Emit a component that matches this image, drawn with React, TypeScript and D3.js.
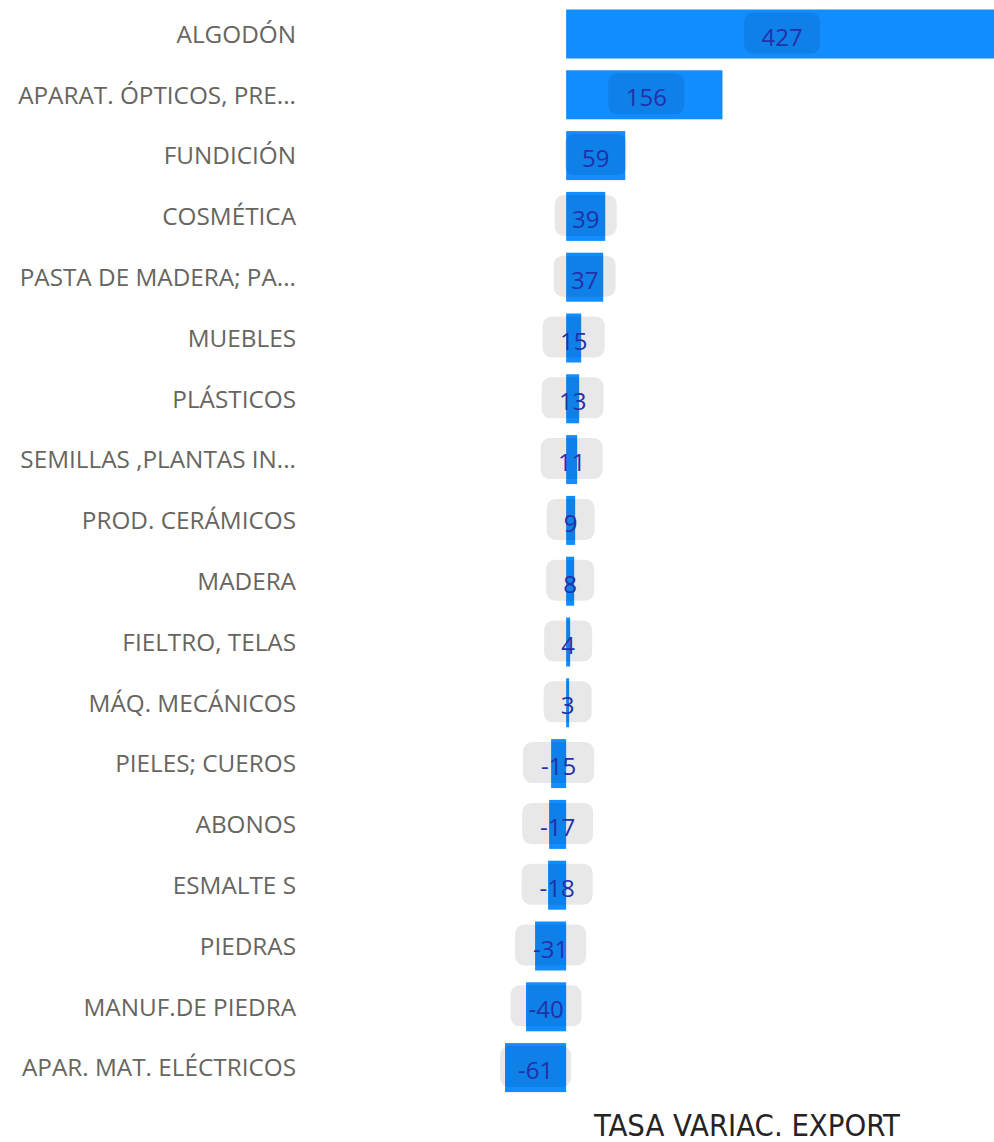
import React from "react";
import * as d3 from "d3";

const categories = [
  "ALGODÓN",
  "APARAT. ÓPTICOS, PRE...",
  "FUNDICIÓN",
  "COSMÉTICA",
  "PASTA DE MADERA; PA...",
  "MUEBLES",
  "PLÁSTICOS",
  "SEMILLAS ,PLANTAS IN...",
  "PROD. CERÁMICOS",
  "MADERA",
  "FIELTRO, TELAS",
  "MÁQ. MECÁNICOS",
  "PIELES; CUEROS",
  "ABONOS",
  "ESMALTE S",
  "PIEDRAS",
  "MANUF.DE PIEDRA",
  "APAR. MAT. ELÉCTRICOS",
];
const values = [427, 156, 59, 39, 37, 15, 13, 11, 9, 8, 4, 3, -15, -17, -18, -31, -40, -61];
const axisTitle = "TASA VARIAC. EXPORT";

const W = 994;
const H = 1142;

export default function App() {
  const y = d3
    .scaleBand<string>()
    .domain(categories)
    .range([3.6, 3.6 + 18 * 60.8])
    .paddingInner(0.194)
    .paddingOuter(0.097);
  const x = d3.scaleLinear().domain([-70, 430]).range([496, 997]);
  const bw = y.bandwidth();
  const font = "'Open Sans', 'Noto Sans', sans-serif";

  return (
    <svg
      width={W}
      height={H}
      style={{ position: "absolute", left: 0, top: 0, display: "block" }}
    >
      <rect width={W} height={H} fill="#ffffff" />
      {categories.map((c, i) => {
        const v = values[i];
        const y0 = y(c)!;
        const cy = y0 + bw / 2;
        const x0 = x(Math.min(0, v));
        const x1 = Math.min(x(Math.max(0, v)), W);
        const label = String(v);
        const digits = label.replace("-", "").length;
        const boxW = 34 + 14 * digits + (v < 0 ? 9 : 0);
        const cx = (x0 + x1) / 2 + (v > 100 ? 2 : 0);
        return (
          <g key={c}>
            <text
              x={296}
              y={cy}
              dy="0.36em"
              textAnchor="end"
              fontFamily={font}
              fontSize={24.3}
              fill="#67655f"
            >
              {c}
            </text>
            <rect x={x0} y={y0} width={x1 - x0} height={bw} fill="#118DFF" />
            <rect
              x={cx - boxW / 2}
              y={cy - 21.5}
              width={boxW}
              height={41}
              rx={9}
              ry={9}
              fill="rgba(0,0,0,0.09)"
            />
            <text
              x={cx}
              y={cy + 3}
              dy="0.36em"
              textAnchor="middle"
              fontFamily={font}
              fontSize={24}
              fill="#2330a8"
            >
              {label}
            </text>
          </g>
        );
      })}
      <text
        x={747}
        y={1136}
        textAnchor="middle"
        fontFamily="'DejaVu Sans Condensed', 'DejaVu Sans', sans-serif"
        fontSize={30}
        textLength={306}
        lengthAdjust="spacingAndGlyphs"
        fill="#252423"
      >
        {axisTitle}
      </text>
    </svg>
  );
}
